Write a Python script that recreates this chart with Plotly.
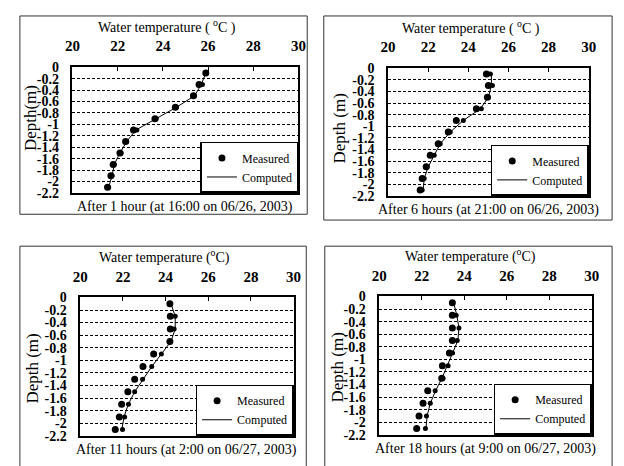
import plotly.graph_objects as go

# ---------------- data ----------------
depths = [-0.1, -0.3, -0.5, -0.7, -0.9, -1.1, -1.3, -1.5, -1.7, -1.9, -2.1]

temp_ticks = [20, 22, 24, 26, 28, 30]
temp_tick_labels = ["20", "22", "24", "26", "28", "30"]
depth_ticks = [0, -0.2, -0.4, -0.6, -0.8, -1.0, -1.2, -1.4, -1.6, -1.8, -2.0, -2.2]
depth_tick_labels = ["0", "-0.2", "-0.4", "-0.6", "-0.8", "-1", "-1.2", "-1.4",
                     "-1.6", "-1.8", "-2", "-2.2"]

# Panel 1: after 1 hour
p1_measured_a = [25.9, 25.6, 25.35, 24.55, 23.65, 22.7, 22.35, 22.1, 21.8, 21.7, 21.55]
p1_measured_b = [25.9, 25.75, 25.4, 24.6, 23.7, 22.85, 22.4, 22.15, 21.85, 21.75, 21.6]
p1_computed = [25.9, 25.7, 25.4, 24.6, 23.7, 22.8, 22.4, 22.1, 21.85, 21.75, 21.6]

# Panel 2: after 6 hours
p2_measured_a = [24.9, 25.0, 24.95, 24.4, 23.4, 23.0, 22.5, 22.1, 21.9, 21.7, 21.6]
p2_measured_b = [25.1, 25.2, 25.0, 24.65, 23.75, 23.1, 22.6, 22.3, 21.95, 21.8, 21.7]
p2_computed = [25.15, 25.15, 25.0, 24.6, 23.75, 23.1, 22.6, 22.3, 22.0, 21.8, 21.75]

# Panel 3: after 11 hours
p3_measured_a = [24.2, 24.22, 24.22, 24.2, 23.44, 22.94, 22.55, 22.23, 21.94, 21.83, 21.64]
p3_measured_b = [24.2, 24.45, 24.4, 24.2, 23.8, 23.35, 22.92, 22.55, 22.26, 22.08, 21.98]
p3_computed = [24.25, 24.45, 24.45, 24.25, 23.8, 23.35, 22.95, 22.55, 22.25, 22.05, 21.95]

# Panel 4: after 18 hours
p4_measured_a = [23.44, 23.44, 23.44, 23.44, 23.3, 22.97, 22.94, 22.28, 22.06, 21.87, 21.76]
p4_measured_b = [23.44, 23.62, 23.75, 23.67, 23.45, 23.24, 23.0, 22.63, 22.4, 22.22, 22.17]
p4_computed = [23.5, 23.65, 23.75, 23.7, 23.45, 23.2, 22.95, 22.65, 22.4, 22.25, 22.2]

captions = ["After 1 hour (at 16:00 on 06/26, 2003)",
            "After 6 hours (at 21:00 on 06/26, 2003)",
            "After 11 hours (at 2:00 on 06/27, 2003)",
            "After 18 hours (at 9:00 on 06/27, 2003)"]
x_titles = ["Water temperature ( <sup>o</sup>C )",
            "Water temperature ( <sup>o</sup>C )",
            "Water temperature (<sup>o</sup>C)",
            "Water temperature (<sup>o</sup>C)"]
y_titles = ["Depth(m)", "Depth (m)", "Depth (m)", "Depth (m)"]

measured_a = [p1_measured_a, p2_measured_a, p3_measured_a, p4_measured_a]
measured_b = [p1_measured_b, p2_measured_b, p3_measured_b, p4_measured_b]
computed = [p1_computed, p2_computed, p3_computed, p4_computed]

# ---------------- layout geometry (window pixels) ----------------
OFF = 8                      # page body margin
W, H = 624 - OFF, 466 - OFF  # figure size so it ends at the window edge
FONT = "Liberation Serif"

def px(x):
    return (x - OFF) / W

def py(y):
    return 1 - (y - OFF) / H

# plot areas: x0, x1, ytop, ybottom
plots = [(66, 298, 62, 192), (390, 596, 63, 195), (74, 293, 300, 443), (381, 599, 299, 442)]
# outer frames
frames = [(12, 307, 9, 214), (324, 620, 9, 220), (12, 306, 247, 480), (325, 620, 247, 480)]
title_x = [163, 475, 160, 475]
ytitle_pos = [(23, 115), (340, 125), (24, 374), (338, 372)]

fig = go.Figure()
annotations = []
shapes = []
layout = dict(width=W, height=H, margin=dict(l=0, r=0, t=0, b=0),
              paper_bgcolor="white", plot_bgcolor="white",
              font=dict(family=FONT, color="black", size=13))

for i in range(4):
    n = "" if i == 0 else str(i + 1)
    xa, ya = "x" + n, "y" + n
    lg = "legend" + n
    fig.add_trace(go.Scatter(x=measured_a[i], y=depths, mode="markers", name="Measured",
                             marker=dict(color="black", size=7), xaxis=xa, yaxis=ya,
                             legend=lg, showlegend=True))
    fig.add_trace(go.Scatter(x=measured_b[i], y=depths, mode="markers", name="Measured",
                             marker=dict(color="black", size=5), xaxis=xa, yaxis=ya,
                             legend=lg, showlegend=False))
    fig.add_trace(go.Scatter(x=computed[i], y=depths, mode="lines", name="Computed",
                             line=dict(color="black", width=1), xaxis=xa, yaxis=ya,
                             legend=lg, showlegend=True))
    x0, x1, yt, yb = plots[i]
    layout["xaxis" + n] = dict(domain=[px(x0), px(x1)], anchor=ya, side="top",
                               range=[20, 30], tickvals=temp_ticks, ticktext=temp_tick_labels,
                               showgrid=False, zeroline=False, showline=True, mirror=True,
                               linecolor="black", linewidth=1.5, ticks="inside", ticklen=4,
                               tickcolor="black", ticklabelstandoff=8,
                               tickfont=dict(family=FONT, size=15, color="black", weight="bold"))
    layout["yaxis" + n] = dict(domain=[py(yb), py(yt)], anchor=xa,
                               range=[-2.2, 0], tickvals=depth_ticks, ticktext=depth_tick_labels,
                               showgrid=True, gridcolor="black", gridwidth=1, griddash="3px,2px",
                               zeroline=False, showline=True, mirror=True,
                               linecolor="black", linewidth=1.5, ticks="", ticklabelstandoff=9,
                               tickfont=dict(family=FONT, size=14, color="black", weight="bold"))
    layout[lg] = dict(x=px(x1), y=py(yb), xanchor="right", yanchor="bottom",
                      bgcolor="white", bordercolor="black", borderwidth=1.5,
                      font=dict(family=FONT, size=12, color="black"),
                      tracegroupgap=0, itemwidth=30)
    annotations.append(dict(text=x_titles[i], x=px(title_x[i]), y=py(yt - 42),
                            xref="paper", yref="paper", showarrow=False,
                            xanchor="center", yanchor="middle",
                            font=dict(family=FONT, size=14, color="black")))
    annotations.append(dict(text=captions[i], x=px((x0 + x1) / 2), y=py(yb + 15),
                            xref="paper", yref="paper", showarrow=False,
                            xanchor="center", yanchor="middle",
                            font=dict(family=FONT, size=14, color="black")))
    annotations.append(dict(text=y_titles[i], x=px(ytitle_pos[i][0]), y=py(ytitle_pos[i][1]),
                            xref="paper", yref="paper", showarrow=False, textangle=-90,
                            xanchor="center", yanchor="middle",
                            font=dict(family=FONT, size=17, color="black")))
    fx0, fx1, fy0, fy1 = frames[i]
    shapes.append(dict(type="rect", xref="paper", yref="paper",
                       x0=px(fx0), x1=px(fx1), y0=py(fy1), y1=py(fy0),
                       line=dict(color="#333333", width=1), layer="below"))

layout["annotations"] = annotations
layout["shapes"] = shapes
fig.update_layout(**layout)
fig.write_html("out.html")
